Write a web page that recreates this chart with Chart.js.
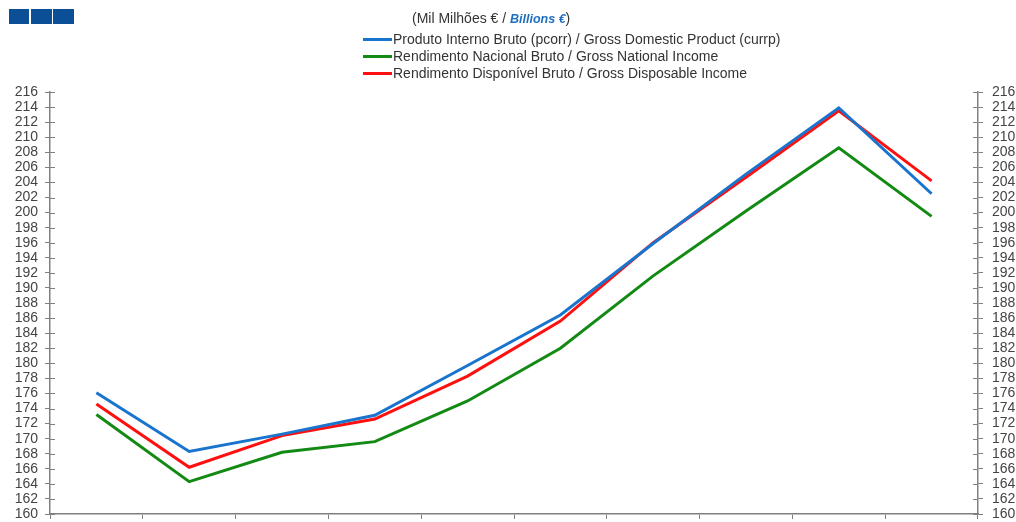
<!DOCTYPE html>
<html>
<head>
<meta charset="utf-8">
<script src="https://cdn.jsdelivr.net/npm/chart.js@4/dist/chart.umd.min.js"></script>
<style>
  html, body { margin:0; padding:0; background:#fff; }
  #wrap { position:relative; width:1016px; height:522px; font-family:"Liberation Sans", Arial, sans-serif; }
  #c { position:absolute; left:0; top:0; }
  .sq { position:absolute; top:9px; height:15px; background:#0b4f97; }
  #title { position:absolute; left:412px; top:10px; font-size:14px; color:#333; white-space:nowrap; }
  #title b { color:#1f6fc0; font-style:italic; font-size:12.5px; }
  #legend { position:absolute; left:363px; top:31px; font-size:14px; color:#333; }
  .row { height:17px; line-height:17px; white-space:nowrap; display:flex; align-items:center; }
  .sw { width:29px; height:3px; margin-right:1px; }
</style>
</head>
<body>
<div id="wrap">
  <canvas id="c" width="1016" height="522"></canvas>
  <div class="sq" style="left:9px;width:20px"></div>
  <div class="sq" style="left:31px;width:21px"></div>
  <div class="sq" style="left:53px;width:21px"></div>
  <div id="title">(Mil Milhões € / <b>Billions €</b>)</div>
  <div id="legend"></div>
</div>
<script>
const categories = ["2011","2012","2013","2014","2015","2016","2017","2018","2019","2020"];
const gdp = [176.1, 168.3, 170.6, 173.1, 179.7, 186.4, 195.9, 205.1, 213.9, 202.5];
const gni = [173.2, 164.3, 168.2, 169.6, 175.0, 182.0, 191.6, 200.2, 208.6, 199.5];
const gdi = [174.6, 166.2, 170.4, 172.6, 178.3, 185.6, 196.0, 204.7, 213.5, 204.2];
const seriesNames = [
  "Produto Interno Bruto (pcorr) / Gross Domestic Product (currp)",
  "Rendimento Nacional Bruto / Gross National Income",
  "Rendimento Disponível Bruto / Gross Disposable Income"
];
const seriesColors = ["#1874cd", "#138a13", "#ff1010"];
const yMin = 160, yMax = 216, yStep = 2;

const leg = document.getElementById('legend');
seriesNames.forEach((n, i) => {
  const r = document.createElement('div'); r.className = 'row';
  const s = document.createElement('span'); s.className = 'sw'; s.style.background = seriesColors[i];
  const t = document.createElement('span'); t.textContent = n;
  r.appendChild(s); r.appendChild(t); leg.appendChild(r);
});

const axisColor = '#808080';
const innerTicks = {
  id: 'innerTicks',
  afterDraw(chart) {
    const ctx = chart.ctx;
    ctx.save();
    ctx.strokeStyle = axisColor; ctx.lineWidth = 1;
    [['y', 1], ['y2', -1]].forEach(([id, dir]) => {
      const sc = chart.scales[id];
      const x = dir === 1 ? chart.chartArea.left : chart.chartArea.right;
      sc.ticks.forEach(t => {
        const py = Math.round(sc.getPixelForValue(t.value)) + 0.5;
        ctx.beginPath(); ctx.moveTo(x, py); ctx.lineTo(x + dir * 5, py); ctx.stroke();
      });
    });
    ctx.restore();
  }
};

const fitY = w => s => { s.width = w; s.paddingTop = 0; s.paddingBottom = 0; };
const tickFont = { family: '"Liberation Sans", Arial, sans-serif', size: 14 };
new Chart(document.getElementById('c'), {
  type: 'line',
  data: {
    labels: categories,
    datasets: [gdp, gni, gdi].map((d, i) => ({
      label: seriesNames[i], data: d, borderColor: seriesColors[i], backgroundColor: seriesColors[i],
      borderWidth: 3, pointRadius: 0, tension: 0, fill: false
    }))
  },
  options: {
    responsive: false, animation: false,
    layout: { padding: { top: 92, bottom: 3, left: 0, right: 0 } },
    plugins: { legend: { display: false }, tooltip: { enabled: false } },
    scales: {
      x: {
        offset: true,
        grid: { offset: true, drawOnChartArea: false, tickLength: 5, color: axisColor },
        border: { color: axisColor, width: 1.5 },
        ticks: { display: false }
      },
      y: {
        position: 'left', min: yMin, max: yMax,
        afterFit: fitY(50),
        ticks: { stepSize: yStep, autoSkip: false, padding: 7, color: '#444', font: tickFont },
        grid: { drawOnChartArea: false, tickLength: 5, color: axisColor },
        border: { color: axisColor, width: 1.5 }
      },
      y2: {
        position: 'right', min: yMin, max: yMax,
        afterFit: fitY(38),
        ticks: { stepSize: yStep, autoSkip: false, padding: 9, color: '#444', font: tickFont },
        grid: { drawOnChartArea: false, tickLength: 5, color: axisColor },
        border: { color: axisColor, width: 1.5 }
      }
    }
  },
  plugins: [innerTicks]
});
</script>
</body>
</html>
